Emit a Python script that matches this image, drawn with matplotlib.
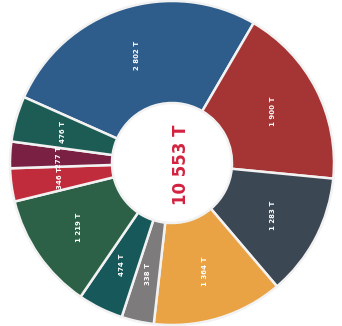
import matplotlib.pyplot as plt

# segments listed clockwise starting from the big blue one
labels = ["2 802 T", "1 900 T", "1 283 T", "1 364 T", "338 T",
          "474 T", "1 219 T", "346 T", "277 T", "476 T"]
values = [2802, 1900, 1283, 1364, 338, 474, 1219, 346, 277, 476]
colors = ["#2e5d8c", "#a53434", "#3b4752", "#e9a244", "#7d7b7c",
          "#17585a", "#2d6147", "#c12c3d", "#7a2143", "#1d5c54"]
total_label = "10 553 T"

fig = plt.figure(figsize=(3.42, 3.26), dpi=100)
ax = fig.add_axes([0, 0, 1, 1])

outer = 162
inner = 60
wedges, texts = ax.pie(values, colors=colors, radius=outer, startangle=156,
                       counterclock=False, center=(1, 2),
                       wedgeprops=dict(width=outer - inner, edgecolor="#f2f2f2", linewidth=1.8),
                       labels=labels, labeldistance=0.7,
                       textprops=dict(color="white", fontsize=5, fontweight="bold",
                                      rotation=90, ha="center", va="center"))
ax.set_xlim(-171, 171)
ax.set_ylim(-161, 165)
ax.set_aspect("equal")
ax.axis("off")

ax.text(10, 0, total_label, rotation=90, ha="center", va="center",
        color="#d3223f", fontsize=12, fontweight="bold")

fig.savefig("out.png", dpi=100, facecolor="white")
